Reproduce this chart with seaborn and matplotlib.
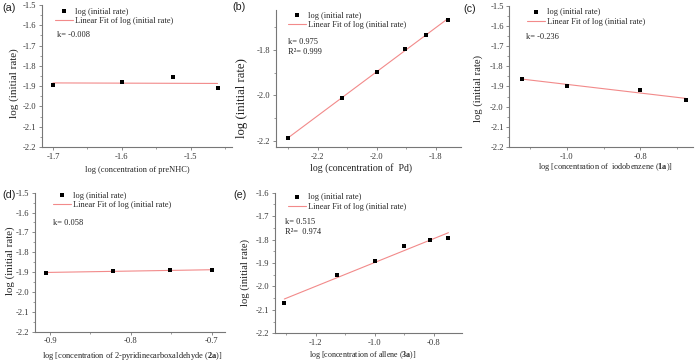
import numpy as np
import pandas as pd
import matplotlib
matplotlib.use("Agg")
import matplotlib.pyplot as plt
import seaborn as sns
from matplotlib.ticker import FormatStrFormatter, AutoMinorLocator, FixedLocator

# ---------------- data ----------------
a_x = [-1.700, -1.600, -1.526, -1.461]
a_y = [-1.895, -1.880, -1.857, -1.910]
b_x = [-2.302, -2.118, -2.000, -1.906, -1.835, -1.759]
b_y = [-2.188, -2.013, -1.895, -1.797, -1.734, -1.669]
c_x = [-1.122, -1.000, -0.800, -0.677]
c_y = [-1.863, -1.896, -1.918, -1.968]
d_x = [-0.905, -0.822, -0.751, -0.699]
d_y = [-1.903, -1.894, -1.891, -1.889]
e_x = [-1.306, -1.129, -1.000, -0.902, -0.812, -0.751]
e_y = [-2.069, -1.953, -1.891, -1.829, -1.800, -1.793]

panel_letters = ["(a)", "(b)", "(c)", "(d)", "(e)"]
x_labels = [
    "log (concentration of preNHC)",
    "log (concentration of  Pd)",
    r"log [concentration of  iodobenzene ($\mathbf{1a}$)]",
    r"log [concentration of 2-pyridinecarboxaldehyde ($\mathbf{2a}$)]",
    r"log [concentration of allene ($\mathbf{3a}$)]",
]
y_label = "log (initial rate)"
k_texts = [["k= -0.008"], ["k= 0.975", "R\u00b2= 0.999"], ["k= -0.236"],
           ["k= 0.058"], ["k= 0.515", "R\u00b2=  0.974"]]
x_ticks = [[-1.7, -1.6, -1.5], [-2.2, -2.0, -1.8], [-1.0, -0.8],
           [-0.9, -0.8, -0.7], [-1.2, -1.0, -0.8]]
y_ticks = [[-2.2, -2.1, -2.0, -1.9, -1.8, -1.7, -1.6, -1.5],
           [-2.2, -2.0, -1.8],
           [-2.2, -2.1, -2.0, -1.9, -1.8, -1.7, -1.6, -1.5],
           [-2.2, -2.1, -2.0, -1.9, -1.8, -1.7, -1.6, -1.5],
           [-2.2, -2.1, -2.0, -1.9, -1.8, -1.7, -1.6]]
legend_labels = ["log (initial rate)", "Linear Fit of log (initial rate)"]

# ---------------- style ----------------
sns.set_style("ticks")
plt.rcParams["font.family"] = ["Liberation Serif", "DejaVu Serif"]
plt.rcParams["axes.unicode_minus"] = False
plt.rcParams["mathtext.fontset"] = "custom"
plt.rcParams["mathtext.rm"] = "Liberation Serif"
plt.rcParams["mathtext.bf"] = "Liberation Serif:bold"

W, H = 700, 361
fig = plt.figure(figsize=(7, 3.61), dpi=100)
renderer = fig.canvas.get_renderer()


def fx(px):
    return px / W


def fy(py):
    return 1 - py / H


def size_for(s, target_px, rotation=0, **kw):
    """font size (pt) that makes text s span target_px pixels"""
    t = fig.text(0, 0, s, fontsize=10, rotation=rotation, **kw)
    bb = t.get_window_extent(renderer)
    t.remove()
    span = bb.height if rotation else bb.width
    return 10 * target_px / span


# axes boxes in pixels: left, right, top, bottom
boxes = [(42, 232, 5, 147), (275.7, 461, 10, 147), (509.3, 693, 5.7, 147),
         (35, 225, 192.7, 331.7), (275, 461.7, 192.7, 333.3)]
xlims = [(-1.716, -1.44), (-2.342, -1.715), (-1.156, -0.657),
         (-0.9186, -0.6834), (-1.3375, -0.706)]
ylims = [(-2.2, -1.5), (-2.226, -1.625), (-2.2, -1.5), (-2.2, -1.5), (-2.2, -1.6)]
ylabel_coords = [(-0.121, 0.45), (-0.15, 0.358), (-0.143, 0.414),
                 (-0.105, 0.509), (-0.134, 0.429)]
xlabel_coords = [(0.5, -0.134), (0.46, -0.117), (0.525, -0.099),
                 (0.509, -0.132), (0.472, -0.112)]
xlabel_widths = [104, 102, 135, 180, 106.7]
ylabel_lengths = [70, 80, 67, 68, 67]
letter_pos = [(2, 3), (232, 2), (463, 4), (2, 190), (233, 190)]
legend_pos = [(55, 7.5), (288, 11.5), (527, 8), (53, 191.5), (288, 193)]
k_pos = [(56.7, [35]), (288, [42, 52]), (525.7, [36.7]), (53, [222.7]),
         (285, [221.7, 232.3])]

tick_fs = size_for("-1.7", 13.3)
legend_fs = size_for(legend_labels[1], 97)
k_fs = size_for("k= -0.008", 32.7)
letter_fs = size_for("(a)", 13.3, family=["Liberation Sans", "DejaVu Sans"])

xs = [a_x, b_x, c_x, d_x, e_x]
ys = [a_y, b_y, c_y, d_y, e_y]

spine_col = "#777777"
fit_col = "#f28a8a"

for i in range(5):
    l, r, t, b = boxes[i]
    ax = fig.add_axes([fx(l), fy(b), (r - l) / W, (b - t) / H])
    df = pd.DataFrame({"x": xs[i], "y": ys[i]})
    sns.scatterplot(data=df, x="x", y="y", ax=ax, marker="s", s=9,
                    color="black", edgecolor="black", linewidth=0,
                    label=legend_labels[0], zorder=3)
    sns.regplot(data=df, x="x", y="y", ax=ax, scatter=False, ci=None,
                truncate=True, label=legend_labels[1],
                line_kws={"color": fit_col, "lw": 0.8})
    ax.lines[-1].set_label(legend_labels[1])
    ax.set_xlim(*xlims[i])
    ax.set_ylim(*ylims[i])
    ax.xaxis.set_major_locator(FixedLocator(x_ticks[i]))
    ax.yaxis.set_major_locator(FixedLocator(y_ticks[i]))
    ax.xaxis.set_minor_locator(AutoMinorLocator(2))
    ax.yaxis.set_minor_locator(AutoMinorLocator(2))
    ax.xaxis.set_major_formatter(FormatStrFormatter("%.1f"))
    ax.yaxis.set_major_formatter(FormatStrFormatter("%.1f"))
    sns.despine(ax=ax)
    for s in ["left", "bottom"]:
        ax.spines[s].set_color(spine_col)
        ax.spines[s].set_linewidth(0.8)
    ax.tick_params(which="major", direction="out", length=2.5, width=0.6,
                   color=spine_col, labelsize=tick_fs, pad=1.5,
                   labelcolor="#333333")
    ax.tick_params(which="minor", direction="out", length=1.5, width=0.5,
                   color=spine_col)
    ax.set_xlabel(x_labels[i], color="#222222",
                  fontsize=size_for(x_labels[i], xlabel_widths[i]))
    ax.set_ylabel(y_label, color="#222222",
                  fontsize=size_for(y_label, ylabel_lengths[i], rotation=90))
    ax.xaxis.set_label_coords(*xlabel_coords[i])
    ax.yaxis.set_label_coords(*ylabel_coords[i])

    handles, labels = ax.get_legend_handles_labels()
    lx, ly = legend_pos[i]
    ax.legend(handles=handles, labels=labels,
              loc="upper left", bbox_to_anchor=(fx(lx), fy(ly)),
              bbox_transform=fig.transFigure, frameon=False, fontsize=legend_fs,
              borderpad=0, borderaxespad=0, handlelength=2.1,
              handletextpad=0.3, labelspacing=0.2, markerscale=1.0)

    kx, kys = k_pos[i]
    for txt, ky in zip(k_texts[i], kys):
        fig.text(fx(kx), fy(ky), txt, fontsize=k_fs, ha="left", va="center",
                 color="#222222")

    px, py = letter_pos[i]
    fig.text(fx(px), fy(py), panel_letters[i], fontsize=letter_fs, ha="left",
             va="top", family=["Liberation Sans", "DejaVu Sans"], color="#222222")

fig.savefig("out.png", dpi=100)
